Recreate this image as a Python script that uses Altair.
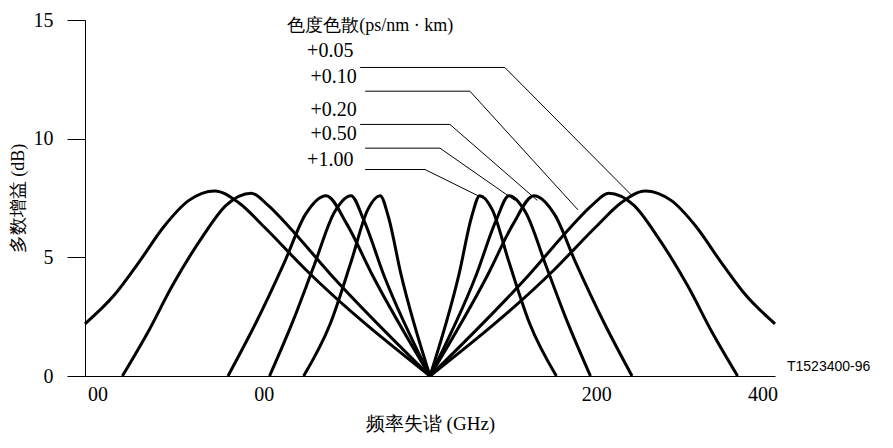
import altair as alt
import pandas as pd

# right-half points of each gain curve (GHz, dB); curves are symmetric about 0
DISPERSION = ["+0.05", "+0.10", "+0.20", "+0.50", "+1.00"]
CURVE_X = [
    [0, 150, 200, 230, 259, 290, 320, 350, 380, 415],
    [0, 120, 170, 195, 215, 245, 275, 310, 340, 370],
    [0, 70, 100, 125, 150, 175, 210, 243],
    [0, 55, 80, 95, 115, 140, 165, 193],
    [0, 35, 50, 60, 75, 95, 120, 152],
]
CURVE_Y = [
    [0, 4.5, 6.3, 7.3, 7.8, 7.4, 6.3, 4.8, 3.4, 2.2],
    [0, 4.3, 6.3, 7.2, 7.7, 7.2, 5.8, 3.8, 1.8, 0],
    [0, 4.3, 6.4, 7.6, 6.8, 4.8, 2.2, 0],
    [0, 4.2, 6.6, 7.6, 6.9, 4.6, 2.3, 0],
    [0, 4.3, 6.7, 7.6, 7.0, 4.8, 2.2, 0],
]
# leader lines from labels to curves
LEADER_X = [[-84, 90, 243], [-78, 48, 178], [-84, 24, 129], [-78, 12, 102], [-78, -6, 69]]
LEADER_Y = [[13.0, 13.0, 7.6], [12.0, 12.0, 7.0], [10.6, 10.6, 7.4], [9.6, 9.6, 7.4], [8.7, 8.7, 7.4]]
LABEL_X = [-120, -116, -116, -116, -120]
LABEL_Y = [13.7, 12.6, 11.2, 10.2, 9.1]

rows = []
for d, xs, ys in zip(DISPERSION, CURVE_X, CURVE_Y):
    for side in (-1, 1):
        for i, (x, y) in enumerate(zip(xs, ys)):
            rows.append({"f": side * x, "g": y, "k": f"{d}{side}", "o": i})
curves = pd.DataFrame(rows)

lrows = []
for d, xs, ys in zip(DISPERSION, LEADER_X, LEADER_Y):
    for i, (x, y) in enumerate(zip(xs, ys)):
        lrows.append({"f": x, "g": y, "k": d, "o": i})
leaders = pd.DataFrame(lrows)
labels = pd.DataFrame({"f": LABEL_X, "g": LABEL_Y, "t": DISPERSION})

xs = alt.Scale(domain=[-415, 415], nice=False, zero=False)
ys = alt.Scale(domain=[0, 15], nice=False)
SERIF = "Liberation Serif"

x_axis = alt.Axis(values=[-400, -200, 0, 200, 400], title="频率失谐 (GHz)",
                  labelExpr="datum.value==0 ? '' : (datum.value<0 ? '00' : datum.label)",
                  grid=False, labelFont=SERIF, labelFontSize=20, labelColor="black",
                  titleFont=SERIF, titleFontSize=19, titleFontWeight="normal",
                  titlePadding=10, domainColor="black", tickColor="black", labelPadding=8,
                  tickSize=0)
y_axis = alt.Axis(values=[0, 5, 10, 15], title="多数增益 (dB)", grid=False,
                  labelFont=SERIF, labelFontSize=20, labelColor="black", labelPadding=14,
                  titleFont=SERIF, titleFontSize=18, titleFontWeight="normal",
                  titlePadding=6, domainColor="black", tickColor="black", tickSize=18)

base_x = alt.X("f:Q", scale=xs, axis=x_axis)
base_y = alt.Y("g:Q", scale=ys, axis=y_axis)

curve_layer = alt.Chart(curves).mark_line(color="black", strokeWidth=3, interpolate="monotone").encode(
    x=base_x, y=base_y, detail="k:N", order="o:Q")
leader_layer = alt.Chart(leaders).mark_line(color="black", strokeWidth=1).encode(
    x=alt.X("f:Q", scale=xs), y=alt.Y("g:Q", scale=ys), detail="k:N", order="o:Q")
label_layer = alt.Chart(labels).mark_text(font=SERIF, fontSize=20, color="black").encode(
    x=alt.X("f:Q", scale=xs), y=alt.Y("g:Q", scale=ys), text="t:N")
head = alt.Chart(pd.DataFrame({"f": [-72], "g": [14.75], "t": ["色度色散(ps/nm · km)"]})).mark_text(
    font=SERIF, fontSize=18, color="black").encode(
    x=alt.X("f:Q", scale=xs), y=alt.Y("g:Q", scale=ys), text="t:N")
code = alt.Chart(pd.DataFrame({"t": ["T1523400-96"]})).mark_text(
    font="Liberation Sans", fontSize=14, color="black", align="left").encode(
    x=alt.value(702), y=alt.value(347), text="t:N")

chart = alt.layer(curve_layer, leader_layer, label_layer, head, code).properties(
    width=690, height=356, autosize=alt.AutoSizeParams(type="none"),
    padding={"left": 77, "top": 12, "right": 110, "bottom": 60}
).configure_view(stroke=None)

chart.save("out.html", embed_options={"renderer": "svg", "actions": False})
